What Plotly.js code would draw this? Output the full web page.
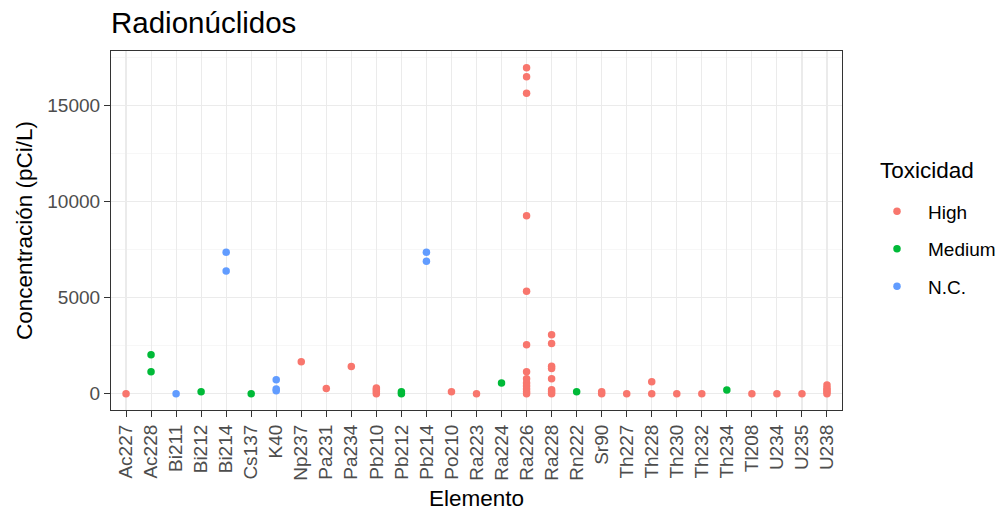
<!DOCTYPE html>
<html>
<head>
<meta charset="utf-8">
<script src="https://cdn.plot.ly/plotly-3.0.1.min.js"></script>
<style>html,body{margin:0;padding:0;background:#fff;}#chart{width:1004px;height:514px;}</style>
</head>
<body>
<div id="chart"></div>
<script>
const elements = ["Ac227","Ac228","Bi211","Bi212","Bi214","Cs137","K40","Np237","Pa231","Pa234","Pb210","Pb212","Pb214","Po210","Ra223","Ra224","Ra226","Ra228","Rn222","Sr90","Th227","Th228","Th230","Th232","Th234","Tl208","U234","U235","U238"];

const highX = ["Ac227","Np237","Pa231","Pa234",
  "Pb210","Pb210","Pb210","Pb210",
  "Po210","Ra223",
  "Ra226","Ra226","Ra226","Ra226","Ra226","Ra226","Ra226","Ra226","Ra226","Ra226","Ra226","Ra226","Ra226",
  "Ra228","Ra228","Ra228","Ra228","Ra228","Ra228","Ra228","Ra228",
  "Sr90","Sr90","Th227","Th228","Th228","Th230","Th232","Tl208","U234","U235",
  "U238","U238","U238","U238","U238"];
const highY = [0,1660,275,1410,
  0,100,200,300,
  100,0,
  16950,16480,15620,9250,5330,2540,1140,780,550,395,250,100,0,
  3060,2610,1430,1310,780,200,100,0,
  0,100,0,620,0,0,0,0,0,0,
  0,100,200,300,450];

const mediumX = ["Ac228","Ac228","Bi212","Cs137","Pb212","Pb212","Ra224","Rn222","Th234"];
const mediumY = [2020,1140,100,0,0,100,550,100,190];

const ncX = ["Bi211","Bi214","Bi214","K40","K40","K40","Pb214","Pb214"];
const ncY = [0,7350,6380,730,250,150,7350,6880];

const groups = ["High","Medium","N.C."];
const colors = ["#F8766D","#00BA38","#619CFF"];
const xs = [highX, mediumX, ncX];
const ys = [highY, mediumY, ncY];

const traces = groups.map((g,i)=>({
  type:"scatter", mode:"markers", name:g, legendgroup:g,
  x: xs[i], y: ys[i],
  marker:{color:colors[i], size:7.5, line:{width:0}},
  cliponaxis:false
}));

const layout = {
  width:1004, height:514,
  margin:{l:110.7, r:162.3, t:51, b:104},
  paper_bgcolor:"#fff", plot_bgcolor:"#fff",
  font:{family:"Liberation Sans, Arial, sans-serif", color:"#000"},
  title:{text:"Radionúclidos", font:{size:29.5, color:"#000"}, xref:"paper", x:0, xanchor:"left", yref:"container", y:1-23/514, yanchor:"middle"},
  xaxis:{
    type:"category", categoryorder:"array", categoryarray:elements,
    range:[-0.6, elements.length-0.4], automargin:false,
    tickangle:-90, tickfont:{size:19, color:"#4D4D4D"},
    ticks:"outside", ticklen:6, tickcolor:"#333333",
    showgrid:true, gridcolor:"#EBEBEB", gridwidth:1.1,
    showline:true, mirror:true, linecolor:"#333333", linewidth:1.1,
    zeroline:false,
    title:{text:"Elemento", font:{size:22.5, color:"#000"}, standoff:10}
  },
  yaxis:{
    range:[-848, 17818], tickmode:"array", tickvals:[0,5000,10000,15000],
    ticktext:["0","5000","10000","15000"], automargin:false,
    tickfont:{size:19, color:"#4D4D4D"},
    ticks:"outside", ticklen:6, tickcolor:"#333333",
    showgrid:true, gridcolor:"#EBEBEB", gridwidth:1.1,
    minor:{tickmode:"array", tickvals:[2500,7500,12500,17500], showgrid:true, gridcolor:"#F2F2F2", gridwidth:0.6, ticks:""},
    showline:true, mirror:true, linecolor:"#333333", linewidth:1.1,
    zeroline:false,
    title:{text:"Concentración (pCi/L)", font:{size:22.5, color:"#000"}, standoff:8}
  },
  showlegend:true,
  legend:{
    xref:"container", yref:"container",
    x:866/1004, xanchor:"left", y:1-192.5/514, yanchor:"top",
    font:{size:19, color:"#000"},
    itemwidth:52,
    tracegroupgap:9.7, bgcolor:"rgba(0,0,0,0)"
  },
  annotations:[{
    text:"Toxicidad", xref:"paper", yref:"paper", showarrow:false,
    x:(878-110.7)/731, xanchor:"left", y:(410-170)/359, yanchor:"middle",
    font:{size:22.5, color:"#000"}
  }]
};

Plotly.newPlot("chart", traces, layout, {displayModeBar:false, staticPlot:true});
</script>
</body>
</html>
